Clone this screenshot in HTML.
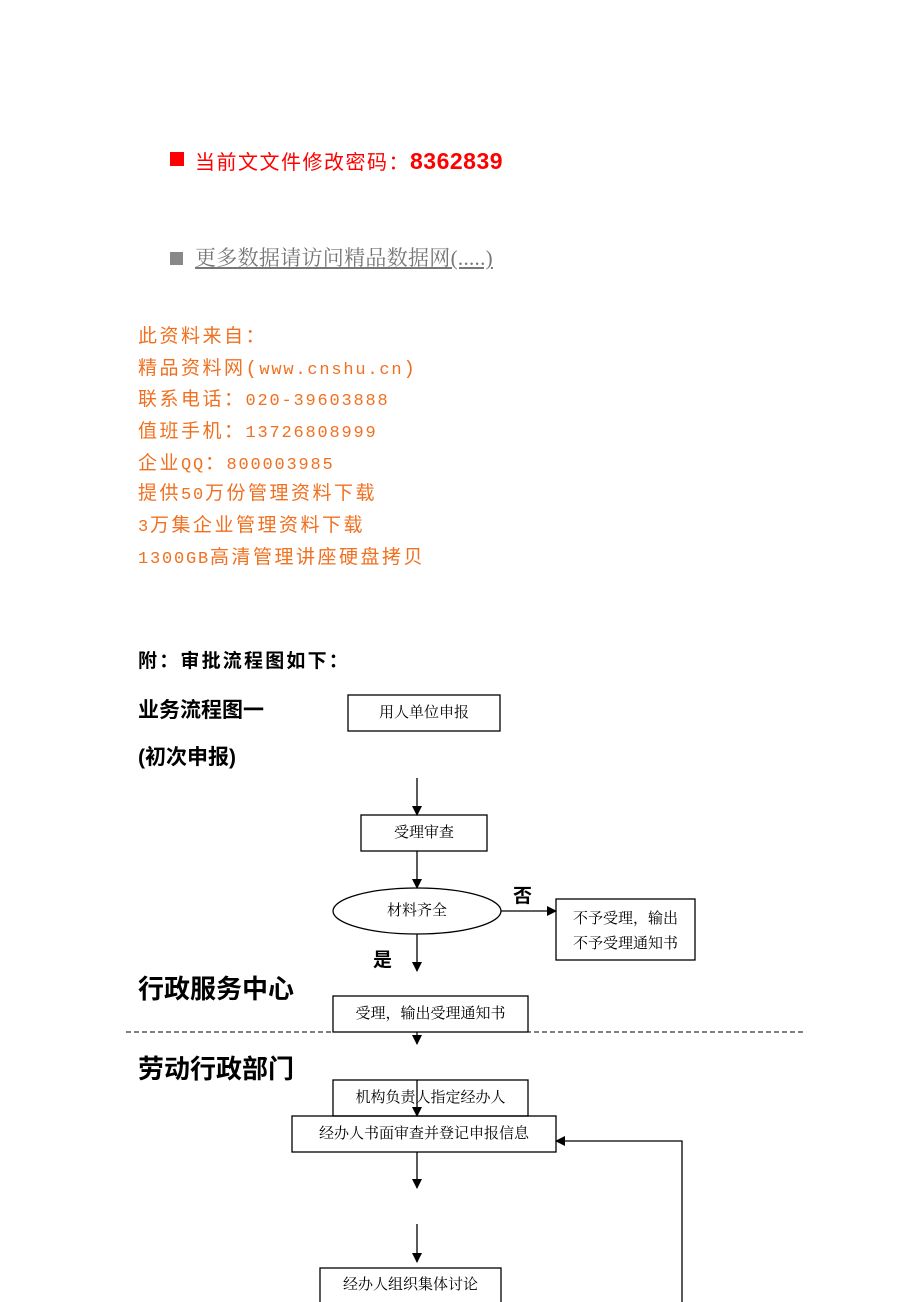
<!DOCTYPE html>
<html><head><meta charset="utf-8"><style>
body{margin:0;width:920px;height:1302px;background:#fff;position:relative;overflow:hidden;font-family:"Liberation Serif","Noto Serif CJK SC",serif;}
.t{position:absolute;white-space:nowrap;line-height:1;}
.o{color:#f07020;font-family:"Liberation Mono","Noto Sans CJK SC",monospace;font-size:19px;letter-spacing:2.5px;left:138px}
.o span{font-size:17px;letter-spacing:1.8px}
.b{font-family:"Liberation Sans","Noto Sans CJK SC",sans-serif;font-weight:bold;color:#000}
.n{font-family:"Liberation Serif","Noto Serif CJK SC",serif;font-size:15px;color:#000;text-align:center}
svg{position:absolute;left:0;top:0}
</style></head><body>
<svg width="920" height="1302">
<defs><marker id="a" markerWidth="10" markerHeight="10" refX="9" refY="5" orient="auto" markerUnits="userSpaceOnUse"><path d="M0,0 L10,5 L0,10 z" fill="#000"/></marker></defs>
<rect x="170" y="152" width="14" height="14" fill="#f00"/>
<rect x="170" y="252" width="13" height="13" fill="#888"/>
<g fill="none" stroke="#000" stroke-width="1.3">
<rect x="348" y="695" width="152" height="36"/>
<rect x="361" y="815" width="126" height="36"/>
<ellipse cx="417" cy="911" rx="84" ry="23"/>
<rect x="556" y="899" width="139" height="61"/>
<rect x="333" y="996" width="195" height="36"/>
<rect x="333" y="1080" width="195" height="36"/>
<rect x="292" y="1116" width="264" height="36"/>
<rect x="320" y="1268" width="181" height="40"/>
<line x1="417" y1="778" x2="417" y2="815" marker-end="url(#a)"/>
<line x1="417" y1="851" x2="417" y2="888" marker-end="url(#a)"/>
<line x1="501" y1="911" x2="556" y2="911" marker-end="url(#a)"/>
<line x1="417" y1="934" x2="417" y2="971" marker-end="url(#a)"/>
<line x1="417" y1="1032" x2="417" y2="1044" marker-end="url(#a)"/>
<line x1="417" y1="1080" x2="417" y2="1116" marker-end="url(#a)"/>
<line x1="417" y1="1152" x2="417" y2="1188" marker-end="url(#a)"/>
<line x1="417" y1="1224" x2="417" y2="1262" marker-end="url(#a)"/>
<polyline points="682,1302 682,1141 556,1141" marker-end="url(#a)"/>
<line x1="126" y1="1032" x2="804" y2="1032" stroke-dasharray="5,3" stroke-width="1"/>
</g>
</svg>
<div class="t" style="left:195px;top:150px;font-size:20px;letter-spacing:1.5px;color:#f00;font-family:'Liberation Sans','Noto Sans CJK SC',sans-serif">当前文文件修改密码：<b style="font-size:23px;letter-spacing:0.5px">8362839</b></div>
<div class="t" style="left:195px;top:248px;font-size:21px;letter-spacing:0.3px;color:#777;text-decoration:underline">更多数据请访问精品数据网(.....)</div>
<div class="t o" style="top:328px">此资料来自：</div>
<div class="t o" style="top:360px">精品资料网(<span>www.cnshu.cn</span>)</div>
<div class="t o" style="top:391px">联系电话：<span>020-39603888</span></div>
<div class="t o" style="top:423px">值班手机：<span>13726808999</span></div>
<div class="t o" style="top:455px">企业<span>QQ</span>：<span>800003985</span></div>
<div class="t o" style="top:485px">提供<span>50</span>万份管理资料下载</div>
<div class="t o" style="top:517px"><span>3</span>万集企业管理资料下载</div>
<div class="t o" style="top:549px"><span>1300GB</span>高清管理讲座硬盘拷贝</div>
<div class="t b" style="left:138px;top:652px;font-size:19px;letter-spacing:2.2px">附：审批流程图如下：</div>
<div class="t b" style="left:138px;top:700px;font-size:21px">业务流程图一</div>
<div class="t b" style="left:138px;top:747px;font-size:21px">(初次申报)</div>
<div class="t b" style="left:138px;top:976px;font-size:26px">行政服务中心</div>
<div class="t b" style="left:138px;top:1056px;font-size:26px">劳动行政部门</div>
<div class="t b" style="left:513px;top:887px;font-size:19px">否</div>
<div class="t b" style="left:373px;top:951px;font-size:19px">是</div>
<div class="t n" style="left:348px;top:706px;width:152px">用人单位申报</div>
<div class="t n" style="left:361px;top:826px;width:126px">受理审查</div>
<div class="t n" style="left:333px;top:904px;width:168px">材料齐全</div>
<div class="t n" style="left:556px;top:907px;width:139px;line-height:25px;white-space:normal">不予受理，输出<br>不予受理通知书</div>
<div class="t n" style="left:333px;top:1007px;width:195px">受理，输出受理通知书</div>
<div class="t n" style="left:333px;top:1091px;width:195px">机构负责人指定经办人</div>
<div class="t n" style="left:292px;top:1127px;width:264px">经办人书面审查并登记申报信息</div>
<div class="t n" style="left:320px;top:1278px;width:181px">经办人组织集体讨论</div>
</body></html>
